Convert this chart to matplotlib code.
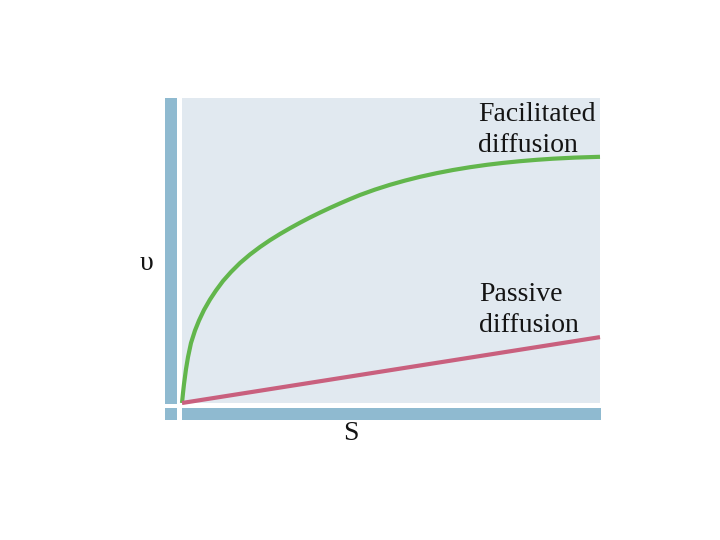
import matplotlib
matplotlib.use("Agg")
import matplotlib.pyplot as plt
from matplotlib.patches import Rectangle

# Data: S in 0..10, v in 0..10
s_facilitated = [0, 0.024, 0.048, 0.096, 0.144, 0.215, 0.311, 0.407, 0.526, 0.670,
                 0.813, 0.981, 1.172, 1.388, 1.627, 1.866, 2.105, 2.344, 2.584,
                 2.823, 3.062, 3.301, 3.541, 3.780, 4.019, 4.258, 4.617, 4.976,
                 5.335, 5.694, 6.100, 6.483, 6.890, 7.297, 7.679, 8.086, 8.493,
                 8.876, 9.402, 10.0]
v_facilitated = [0, 0.328, 0.623, 1.115, 1.508, 1.967, 2.377, 2.705, 3.049, 3.393,
                 3.689, 4.000, 4.295, 4.590, 4.869, 5.115, 5.338, 5.541, 5.731,
                 5.911, 6.082, 6.243, 6.397, 6.544, 6.685, 6.820, 6.997, 7.154,
                 7.292, 7.416, 7.538, 7.639, 7.731, 7.810, 7.872, 7.928, 7.974,
                 8.010, 8.046, 8.072]
s_passive = [0, 10.0]
v_passive = [0, 2.16]

labels = ["Facilitated\ndiffusion", "Passive\ndiffusion"]
x_label = "S"
y_label = "υ"

W, H = 720, 540
fig = plt.figure(figsize=(7.2, 5.4), dpi=100)
fig.patch.set_facecolor("white")

def fx(px):
    return px / W

def fy(py):
    return 1 - py / H

panel_col = "#e1e9f0"
bar_col = "#8fbad0"

ax = fig.add_axes([fx(182), fy(403), fx(600) - fx(182), fy(98) - fy(403)])
ax.set_facecolor(panel_col)
ax.set_xlim(0, 10)
ax.set_ylim(0, 10)
for sp in ax.spines.values():
    sp.set_visible(False)
ax.set_xticks([])
ax.set_yticks([])

ax.plot(s_facilitated, v_facilitated, color="#62b64c", lw=3.0,
        solid_capstyle="butt", solid_joinstyle="round", clip_on=False)
ax.plot(s_passive, v_passive, color="#c9607e", lw=3.0,
        solid_capstyle="butt", clip_on=False)

# decorative axis bars
fig.add_artist(Rectangle((fx(165), fy(404)), fx(177) - fx(165), fy(98) - fy(404),
                         transform=fig.transFigure, color=bar_col, lw=0))
fig.add_artist(Rectangle((fx(165), fy(420)), fx(177) - fx(165), fy(408) - fy(420),
                         transform=fig.transFigure, color=bar_col, lw=0))
fig.add_artist(Rectangle((fx(182), fy(420)), fx(601) - fx(182), fy(408) - fy(420),
                         transform=fig.transFigure, color=bar_col, lw=0))

font = dict(family="Liberation Serif", fontsize=20, color="#141414")
fig.text(fx(478), fy(152), labels[0], ha="left", va="baseline", linespacing=1.3, **font)
fig.text(fx(479), fy(332), labels[1], ha="left", va="baseline", linespacing=1.3, **font)
fig.text(fx(351), fy(434), x_label, ha="center", va="center", **font)
fig.text(fx(146), fy(263), y_label, ha="center", va="center", **font)

fig.savefig("out.png", dpi=100)
